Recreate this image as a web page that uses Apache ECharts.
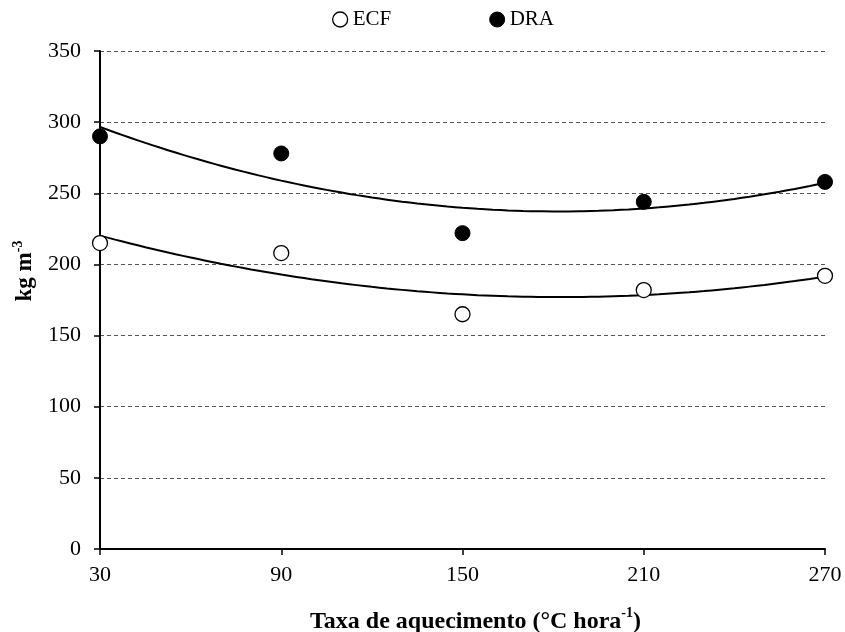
<!DOCTYPE html>
<html><head><meta charset="utf-8">
<script src="https://cdn.jsdelivr.net/npm/echarts@6/dist/echarts.min.js"></script>
<style>html,body{margin:0;padding:0;background:#fff}#c{width:845px;height:632px}</style>
</head><body><div id="c"></div>
<script>
var xValues = [30, 90, 150, 210, 270];
var ecf = [215, 208, 165, 182, 192];
var dra = [290, 278, 222, 244, 258];
var yTicks = [0, 50, 100, 150, 200, 250, 300, 350];

// quadratic least-squares trend line (as in the original spreadsheet trendline)
function quadFit(xs, ys) {
  var n = xs.length, s = [0,0,0,0,0], t = [0,0,0];
  for (var i = 0; i < n; i++) {
    var x = xs[i], p = 1;
    for (var k = 0; k < 5; k++) { s[k] += p; if (k < 3) t[k] += p * ys[i]; p *= x; }
  }
  var A = [[s[0],s[1],s[2],t[0]],[s[1],s[2],s[3],t[1]],[s[2],s[3],s[4],t[2]]];
  for (var c = 0; c < 3; c++) {
    for (var r = c + 1; r < 3; r++) {
      var f = A[r][c] / A[c][c];
      for (var j = c; j < 4; j++) A[r][j] -= f * A[c][j];
    }
  }
  var co = [0,0,0];
  for (var r2 = 2; r2 >= 0; r2--) {
    var v = A[r2][3];
    for (var j2 = r2 + 1; j2 < 3; j2++) v -= A[r2][j2] * co[j2];
    co[r2] = v / A[r2][r2];
  }
  var out = [];
  for (var x2 = xs[0]; x2 <= xs[n-1] + 1e-9; x2 += 5) out.push([x2, co[0] + co[1]*x2 + co[2]*x2*x2]);
  return out;
}

var font = '"Liberation Serif", "Times New Roman", serif';
var chart = echarts.init(document.getElementById('c'));
chart.setOption({
  animation: false,
  backgroundColor: '#fff',
  textStyle: { fontFamily: font },
  grid: { left: 100, right: 20, top: 51, bottom: 83, containLabel: false, outerBoundsMode: 'none' },
  legend: {
    top: 4, left: 327,
    itemGap: 98, itemWidth: 15, itemHeight: 15,
    textStyle: { fontFamily: font, fontSize: 21, color: '#000' },
    data: [
      { name: 'ECF', icon: 'circle', itemStyle: { color: '#fff', borderColor: '#000', borderWidth: 1.3 } },
      { name: 'DRA', icon: 'circle', itemStyle: { color: '#000', borderColor: '#000', borderWidth: 1 } }
    ]
  },
  xAxis: {
    type: 'value', min: 30, max: 270, interval: 60,
    name: '{b|Taxa de aquecimento (°C hora}{s|-1}{b|)}',
    nameLocation: 'middle', nameGap: 57,
    nameTextStyle: {
      padding: [0, 0, 0, 26],
      rich: {
        b: { fontFamily: font, fontSize: 24, fontWeight: 'bold', color: '#000', verticalAlign: 'bottom', lineHeight: 28 },
        s: { fontFamily: font, fontSize: 14, fontWeight: 'bold', color: '#000', verticalAlign: 'top', lineHeight: 28, padding: [0,0,13,0] }
      }
    },
    axisLine: { show: true, onZero: false, lineStyle: { color: '#000', width: 2 } },
    axisTick: { show: true, length: 6, inside: false, lineStyle: { color: '#000', width: 1.5 } },
    axisLabel: { fontFamily: font, fontSize: 22, color: '#000', margin: 15 },
    splitLine: { show: false }
  },
  yAxis: {
    type: 'value', min: 0, max: 350, interval: 50,
    name: '{b|kg m}{s|-3}',
    nameLocation: 'middle', nameGap: 63, nameRotate: 90,
    nameTextStyle: {
      padding: [0, 0, 0, 58],
      rich: {
        b: { fontFamily: font, fontSize: 23, fontWeight: 'bold', color: '#000', verticalAlign: 'bottom', lineHeight: 26 },
        s: { fontFamily: font, fontSize: 14, fontWeight: 'bold', color: '#000', verticalAlign: 'top', lineHeight: 26, padding: [0,0,12,0] }
      }
    },
    axisLine: { show: true, lineStyle: { color: '#000', width: 2 } },
    axisTick: { show: true, length: 6, lineStyle: { color: '#000', width: 1.5 } },
    axisLabel: { fontFamily: font, fontSize: 22, color: '#000', margin: 19,
      formatter: function (v) { return yTicks.indexOf(v) >= 0 ? String(v) : ''; } },
    splitLine: { show: true, lineStyle: { color: '#555', type: [4, 3], width: 1 } }
  },
  series: [
    { name: 'ECF trend', type: 'line', data: quadFit(xValues, ecf), smooth: true, showSymbol: false, silent: true,
      lineStyle: { color: '#000', width: 2 }, z: 2 },
    { name: 'DRA trend', type: 'line', data: quadFit(xValues, dra), smooth: true, showSymbol: false, silent: true,
      lineStyle: { color: '#000', width: 2 }, z: 2 },
    { name: 'ECF', type: 'scatter', data: xValues.map(function (x, i) { return [x, ecf[i]]; }),
      symbol: 'circle', symbolSize: 15, itemStyle: { color: '#fff', borderColor: '#000', borderWidth: 1.3, opacity: 1 }, z: 5 },
    { name: 'DRA', type: 'scatter', data: xValues.map(function (x, i) { return [x, dra[i]]; }),
      symbol: 'circle', symbolSize: 15, itemStyle: { color: '#000', borderColor: '#000', borderWidth: 1, opacity: 1 }, z: 5 }
  ]
});
</script></body></html>
